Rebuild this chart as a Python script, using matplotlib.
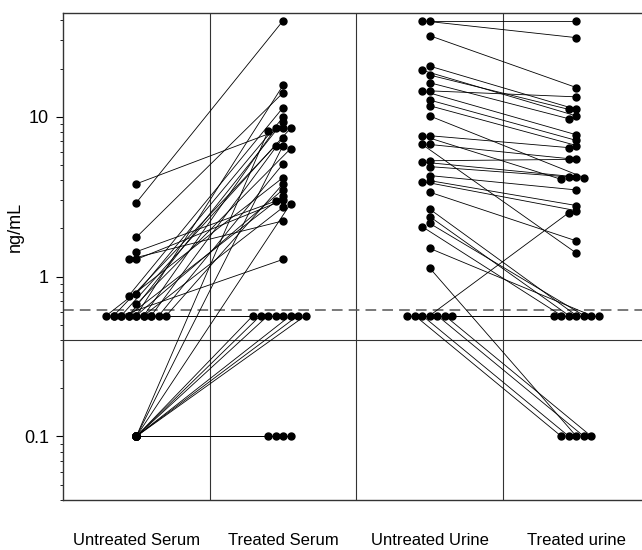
import matplotlib.pyplot as plt
import numpy as np
from matplotlib.ticker import LogLocator, NullFormatter

plt.rcParams['font.family'] = ['Liberation Sans', 'DejaVu Sans']

# values below the LOD are drawn on one row just under the dashed line
ND = 0.57
LOD = 0.62
CUTOFF = 0.40

categories = ['Untreated Serum', 'Treated Serum', 'Untreated Urine', 'Treated urine']

# paired samples (untreated -> treated), ng/mL
serum_untreated = [2.9, ND, 1.76, 0.76, 0.78, ND, 3.8, ND, ND, 0.1, ND, 0.1, ND,
                   0.67, ND, ND, ND, ND, ND, 1.28, 1.43, 0.1, ND, 1.28, ND,
                   ND, ND,
                   0.1, 0.1, 0.1, 0.1, 0.1, 0.1,
                   0.1, 0.1, 0.1, 0.1]
serum_treated = [39.8, 15.7, 14.1, 11.4, 9.9, 9.3, 8.45, 8.45, 8.45, 8.1, 7.4, 6.6, 6.6,
                 6.3, 5.06, 4.16, 3.8, 3.5, 3.2, 3.0, 2.96, 2.85, 2.71, 2.23, 1.28,
                 ND, ND,
                 ND, ND, ND, ND, ND, ND,
                 0.1, 0.1, 0.1, 0.1]

urine_untreated = [39.8, 39.8, 32.1, 20.7, 19.5, 18.2, 16.3, 14.5, 14.5, 12.7, 11.7, 10.1,
                   7.6, 7.6, 6.7, 6.7, 5.3, 5.2, 4.87, 4.28, 3.98, 3.93, 3.37,
                   2.64, 2.37, 2.15, 2.05, 1.5, 1.13,
                   ND, ND, ND, ND, ND, ND, ND]
urine_treated = [39.8, 31.2, 15.2, 11.1, 10.1, 11.1, 9.7, 13.3, 7.7, 7.1, 6.6, 4.16,
                 6.4, 4.05, 5.4, 1.40, 5.4, 4.2, 4.2, 3.48, 2.78, 2.58, 1.67,
                 ND, ND, ND, ND, ND, 0.1,
                 2.51, 0.1, 0.1, 0.1, 0.1, ND, ND]

# how many dots a row of identical values gets before dots are reused
row_caps = {(0, 0.1): 1, (0, ND): 9}

fig = plt.figure(figsize=(6.42, 5.5), dpi=100)
ax = fig.add_axes([63 / 642, 50 / 550, 579 / 642, 487.3 / 550])
ax.set_yscale('log')
ax.set_xlim(0.5, 4.447)
ax.set_ylim(0.040, 44.7)


def swarm(col, values, slot=7.5, gap=4.2):
    # spread overlapping dots sideways, returns x in data units
    x0 = col + 1
    pts = ax.transData.transform(np.column_stack([np.full(len(values), x0), values]))
    px_unit = ax.transData.transform((1, 1))[0] - ax.transData.transform((0, 1))[0]
    order = sorted(range(len(values)), key=lambda i: -values[i])
    placed = []
    xs = [x0] * len(values)
    firsts = {}
    counts = {}
    for i in order:
        v = values[i]
        cap = row_caps.get((col, v))
        c = counts.get(v, 0)
        counts[v] = c + 1
        if cap is not None and c >= cap:
            xs[i] = firsts[v][c % cap]
            continue
        px, py = pts[i]
        for k in [0, -1, 1, -2, 2, -3, 3, -4, 4, -5, 5, -6, 6]:
            cx = px + k * slot
            if all(np.hypot(cx - qx, py - qy) >= gap for qx, qy in placed):
                break
        placed.append((cx, py))
        xs[i] = x0 + k * slot / px_unit
        firsts.setdefault(v, []).append(xs[i])
    return xs


for col, (before, after) in enumerate([(serum_untreated, serum_treated),
                                       (urine_untreated, urine_treated)]):
    xb = swarm(2 * col, before)
    xa = swarm(2 * col + 1, after)
    for x1, y1, x2, y2 in zip(xb, before, xa, after):
        ax.plot([x1, x2], [y1, y2], color='black', lw=0.6, zorder=2)
    ax.plot(xb, before, 'o', color='black', ms=5, zorder=3, clip_on=False)
    ax.plot(xa, after, 'o', color='black', ms=5, zorder=3, clip_on=False)

for xv in [1.5, 2.5, 3.5]:
    ax.axvline(xv, color='#333333', lw=0.8, zorder=1)
ax.axhline(CUTOFF, color='#333333', lw=0.8, zorder=1)
ax.axhline(LOD, color='#555555', lw=1.1, ls=(0, (7, 4)), zorder=1)

ax.set_xticks([1, 2, 3, 4])
ax.set_xticklabels(categories, fontsize=12)
ax.tick_params(axis='x', length=0, pad=24)
ax.set_yticks([0.1, 1, 10])
ax.set_yticklabels(['0.1', '1', '10'], fontsize=13)
ax.yaxis.set_minor_locator(LogLocator(base=10, subs=np.arange(2, 10)))
ax.yaxis.set_minor_formatter(NullFormatter())
ax.tick_params(axis='y', which='major', direction='out', length=5, pad=5, width=0.8)
ax.tick_params(axis='y', which='minor', direction='out', length=2.5, width=0.6)

for side in ['left', 'top', 'bottom']:
    ax.spines[side].set_color('#333333')
    ax.spines[side].set_linewidth(1.0)
ax.spines['right'].set_visible(False)

ax.set_ylabel('ng/mL', fontsize=13)
ax.yaxis.set_label_coords(-0.068, 0.56)

fig.savefig('out.png', dpi=100)
